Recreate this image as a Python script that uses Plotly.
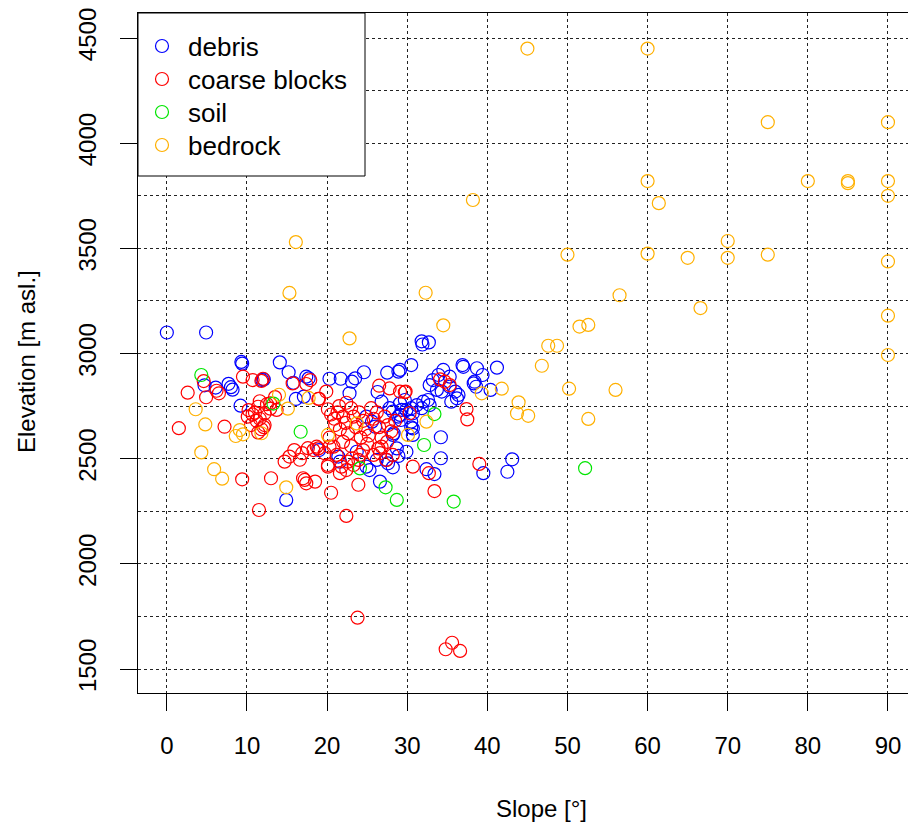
import plotly.graph_objects as go

# ---------------- data ----------------
debris_slope = [0, 4.9, 9.3, 9.4, 14.1, 15.2, 15.8, 11.9, 12.1, 4.7, 6.1, 7.7, 8.0, 8.2, 9.2,
                16.1, 17.1, 17.4, 17.7, 20.3, 21.7, 23.1, 23.5, 24.6, 27.5, 28.9, 29.1, 30.5,
                22.8, 26.3, 31.8, 32.7, 31.9, 36.9, 37.0, 38.7, 39.4, 41.2, 38.4, 38.6, 38.3,
                40.4, 34.5, 33.9, 33.2, 32.8, 33.7, 34.3, 35.3, 36.0, 36.4, 35.5, 36.2, 35.3,
                32.0, 32.6, 32.8, 31.8, 30.5, 30.7, 30.7, 34.2, 29.9, 29.3, 29.1, 28.3, 30.5,
                29.2, 28.9, 27.6, 28.2, 32.4, 33.4, 34.2, 39.5, 43.1, 42.5, 26.6, 25.3, 21.4,
                21.6, 19.0, 14.9, 26.8, 27.8, 28.2, 29.1, 29.7, 30.5, 31.2, 30.7, 29.9, 28.9,
                26.0, 25.6, 24.9, 28.2, 23.7, 24.9, 26.2, 27.4, 28.7]
debris_elev = [3100, 3100, 2960, 2952, 2958, 2911, 2861, 2874, 2877, 2849, 2838, 2856, 2840, 2828, 2752,
               2784, 2795, 2890, 2882, 2880, 2880, 2866, 2882, 2911, 2909, 2914, 2922, 2945,
               2811, 2817, 3058, 3053, 3043, 2945, 2937, 2930, 2898, 2933, 2866, 2842, 2858,
               2827, 2922, 2898, 2874, 2850, 2827, 2819, 2842, 2819, 2803, 2771, 2787, 2890,
               2771, 2779, 2755, 2740, 2676, 2644, 2613, 2602, 2533, 2732, 2708, 2621, 2649,
               2684, 2513, 2478, 2459, 2450, 2427, 2502, 2431, 2497, 2438, 2391, 2446, 2510,
               2486, 2541, 2304, 2771, 2740, 2724, 2763, 2779, 2740, 2755, 2716, 2732, 2700,
               2652, 2676, 2700, 2613, 2533, 2462, 2494, 2494, 2549]

blocks_slope = [9.5, 10.7, 12.0, 11.8, 4.6, 6.2, 6.5, 2.6, 4.9, 15.7, 17.9, 17.4, 13.5, 12.9, 19.0,
                10.2, 11.0, 11.6, 11.4, 12.5, 12.2, 12.9, 13.7, 1.5, 7.2,
                10.1, 10.7, 10.5, 11.2, 11.6, 11.8, 12.1, 11.4, 12.2,
                9.4, 13.0, 14.7, 15.3, 15.9, 16.6, 16.9, 17.6, 18.3, 18.7, 17.0, 17.4, 18.5, 17.2,
                11.5, 20.1, 20.5, 22.4, 23.8, 34.8, 35.6, 36.6,
                18.9, 19.7, 20.3, 20.1, 20.8, 21.2,
                21.6, 21.8, 22.4, 22.6, 23.1, 23.3, 23.9, 24.1, 24.5, 23.9,
                25.8, 26.4, 26.6, 26.8, 27.4, 28.2,
                30.7, 32.7, 33.4, 39.0,
                26.5, 29.1, 29.8, 19.9, 18.9, 22.4, 29.7, 30.3, 37.4, 37.5, 34.1, 34.7, 35.3, 27.8,
                20.1, 20.5, 20.9, 21.3, 21.0, 21.6, 22.0, 22.3, 22.6, 23.0, 23.3, 23.6, 24.0, 24.2,
                24.5, 24.8, 25.2, 25.5, 25.8, 26.2, 26.5, 26.8, 27.2, 27.6, 28.0, 28.5, 22.0, 23.0,
                25.0, 27.5, 20.3, 21.5]
blocks_elev = [2890, 2874, 2880, 2870, 2869, 2823, 2811, 2814, 2792, 2858, 2874, 2855, 2793, 2763, 2785,
               2731, 2719, 2773, 2747, 2759, 2716, 2738, 2732, 2645, 2652,
               2700, 2710, 2660, 2680, 2690, 2640, 2650, 2625, 2660,
               2402, 2407, 2486, 2510, 2541, 2495, 2526, 2550, 2541, 2557, 2407, 2383, 2391, 2399,
               2256, 2462, 2338, 2228, 1744, 1594, 1625, 1586,
               2549, 2526, 2557, 2470, 2557, 2518,
               2431, 2462, 2446, 2486, 2502, 2470, 2494, 2518, 2541, 2376,
               2518, 2549, 2526, 2557, 2494, 2518,
               2462, 2431, 2346, 2475,
               2847, 2819, 2819, 2819, 2784, 2766, 2816, 2716, 2736, 2687, 2877, 2866, 2850, 2834,
               2735, 2710, 2690, 2720, 2660, 2640, 2700, 2670, 2620, 2740, 2700, 2650, 2720, 2600,
               2680, 2640, 2610, 2740, 2690, 2720, 2650, 2600, 2700, 2660, 2630, 2680, 2580, 2560,
               2570, 2580, 2600, 2750]

soil_slope = [4.3, 13.3, 16.7, 24.1, 27.3, 28.7, 32.1, 33.4, 35.8, 52.2]
soil_elev = [2898, 2762, 2628, 2454, 2364, 2304, 2565, 2712, 2296, 2455]

bedrock_slope = [45, 60, 75, 90, 60, 80, 85, 85, 90, 90, 61.4, 50, 60, 65, 70, 70, 75, 90, 56.5,
                 66.6, 90, 32.3, 34.5, 51.5, 52.6, 47.6, 48.7, 90, 46.8, 41.8, 50.2, 56, 39.3,
                 43.9, 43.7, 45.1, 52.6, 32.4, 30.1, 38.2, 16.1, 15.3, 22.8,
                 3.6, 4.8, 9.1, 8.6, 9.5, 11.8, 4.3, 5.9, 6.9, 14.9, 14.0, 15.1, 17.7, 23.7, 20.1]
bedrock_elev = [4450, 4450, 4100, 4100, 3820, 3820, 3820, 3810, 3820, 3750, 3715, 3470, 3475, 3455,
                3535, 3455, 3470, 3438, 3277, 3216, 3180, 3289, 3134, 3128, 3136, 3037, 3037, 2993,
                2942, 2833, 2833, 2827, 2811, 2768, 2716, 2704, 2689, 2676, 2613, 3730, 3530, 3288,
                3072, 2735, 2663, 2636, 2608, 2616, 2621, 2530, 2450, 2405, 2364, 2804, 2738, 2789,
                2668, 2613]

categories = ["debris", "coarse blocks", "soil", "bedrock"]
colors = ["#0000FF", "#FF0000", "#00E600", "#FFB000"]
slopes = [debris_slope, blocks_slope, soil_slope, bedrock_slope]
elevs = [debris_elev, blocks_elev, soil_elev, bedrock_elev]

x_ticks = [0, 10, 20, 30, 40, 50, 60, 70, 80, 90]
y_ticks = [1500, 2000, 2500, 3000, 3500, 4000, 4500]

FONT = "Liberation Sans, Arial, Helvetica, sans-serif"

# plot-area pixel geometry (for the hand-drawn R-style legend)
L, R_, T, B = 138, 908, 13, 693
W, H = R_ - L, B - T


def px(xp):
    return (xp - L) / W


def py(yp):
    return (B - yp) / H


fig = go.Figure()
for name, xs, ys, col in zip(categories, slopes, elevs, colors):
    fig.add_trace(go.Scatter(
        x=xs, y=ys, mode="markers", name=name, showlegend=False,
        marker=dict(symbol="circle-open", size=13, color=col, line=dict(width=1.2, color=col)),
    ))

shapes = [dict(type="rect", xref="paper", yref="paper", layer="above",
               x0=px(L), x1=px(365), y0=py(176), y1=py(T),
               fillcolor="white", line=dict(color="black", width=1))]
annotations = []
row_y = [46, 79, 112, 145]
for name, col, ry in zip(categories, colors, row_y):
    shapes.append(dict(type="circle", xref="paper", yref="paper", layer="above",
                       x0=px(162 - 6.5), x1=px(162 + 6.5), y0=py(ry + 6.5), y1=py(ry - 6.5),
                       line=dict(color=col, width=1.2)))
    annotations.append(dict(text=name, xref="paper", yref="paper", x=px(186), y=py(ry + 1),
                            xanchor="left", yanchor="middle", showarrow=False,
                            font=dict(size=26, family=FONT)))

annotations += [
    dict(text="Slope [°]", xref="paper", yref="paper", x=px(541),
         y=py(808), xanchor="center", yanchor="middle", showarrow=False,
         font=dict(size=24)),
    dict(text="Elevation [m asl.]", xref="paper", yref="paper", x=px(27),
         y=py(362), xanchor="center", yanchor="middle", showarrow=False,
         textangle=-90, font=dict(size=24)),
]

fig.update_layout(
    width=908, height=825,
    margin=dict(l=L, r=908 - R_, t=T, b=825 - B),
    paper_bgcolor="white", plot_bgcolor="white",
    font=dict(family=FONT, color="black", size=24),
    showlegend=False,
    xaxis=dict(range=[-3.6, 92.5], tickvals=x_ticks, ticktext=[str(v) for v in x_ticks],
               showgrid=True, gridcolor="#222222", griddash="dot", gridwidth=1,
               zeroline=False, showline=True, linecolor="black", linewidth=1, mirror=True,
               ticks="outside", ticklen=17, tickcolor="black", tickwidth=1,
               tickfont=dict(size=24), ticklabelstandoff=14),
    yaxis=dict(range=[1386, 4619], tickvals=y_ticks, ticktext=[str(v) for v in y_ticks],
               showgrid=True, gridcolor="#222222", griddash="dot", gridwidth=1,
               minor=dict(dtick=250, tick0=1500, showgrid=True, gridcolor="#222222",
                          griddash="dot", gridwidth=1, ticks=""),
               zeroline=False, showline=True, linecolor="black", linewidth=1, mirror=False,
               ticks="outside", ticklen=17, tickcolor="black", tickwidth=1,
               tickangle=-90, tickfont=dict(size=24), ticklabelstandoff=14),
    shapes=shapes,
    annotations=annotations,
)

fig.write_html("out.html")
